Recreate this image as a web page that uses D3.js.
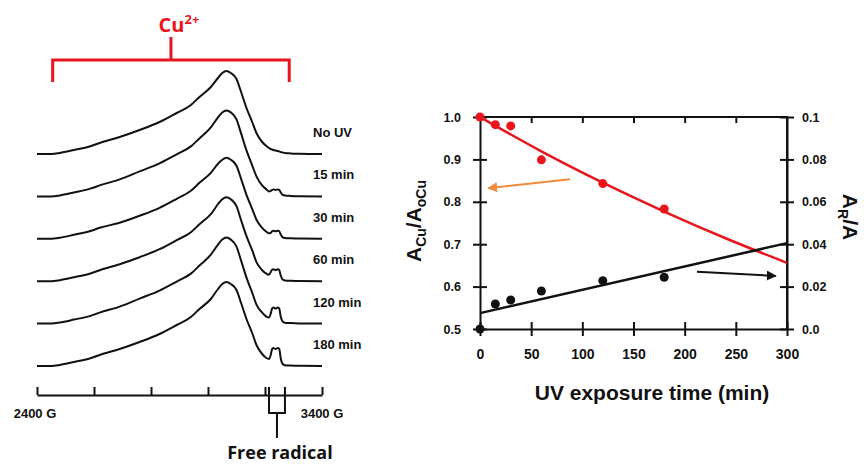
<!DOCTYPE html>
<html><head><meta charset="utf-8">
<script src="https://cdn.jsdelivr.net/npm/d3@7"></script>
<style>
html,body{margin:0;padding:0;background:#fff;}
svg{display:block;}
</style></head>
<body>
<svg id="chart" width="864" height="466"></svg>
<script>
// ---------- Left panel: EPR spectra ----------
const fieldG = [2400,2450,2480,2530,2590,2620,2690,2760,2830,2890,2940,2970,3010,3035,3050,3065,3080,3100,3115,3135,3155,3170,3190,3205,3214,3220,3225,3229,3237,3245,3250,3255,3262,3270,3290,3320,3400];
const traceLabels = ["No UV","15 min","30 min","60 min","120 min","180 min"];
const specNoUV  = [0,0,1,4,8,11,17,24,32,41,49,57,67,76,81,83,81,75,63,46,32,21,12,8,6,5,4.5,4,3.5,3,2.5,2,1.5,1,0.6,0.3,0];
const spec15    = [0,0,1,4,8,11,17,25,33,42,50,58,69,79,84,86,84,77,64,46,31,20,11,7,5,5.5,6.5,7,6.5,7,6.5,4,1.5,0.8,0.5,0.2,0];
const spec30    = [0,0,1,4,8,11,16,23,31,40,48,56,66,75,79,81,79,73,61,44,30,19,11,7,5.5,6,7.5,8,7.5,8,7.5,4.5,1.5,0.8,0.5,0.2,0];
const spec60    = [0,0,1,4,8,11,17,24,32,41,49,57,67,77,82,84,82,75,62,45,31,19,11,7.5,6.5,9,11.5,12,11,12,11,6,1.8,0.8,0.5,0.2,0];
const spec120   = [0,0,1,4,8,11,17,25,33,42,50,58,69,79,84,86,84,77,64,46,31,19,11,7,6,10,15,16,15,16,15,7,2,0.8,0.5,0.2,0];
const spec180   = [0,0,1,4,8,11,17,24,32,41,49,57,67,77,82,84,82,76,64,47,33,21,12,8,7,11,17,18,17,18,17,8,2,0.8,0.5,0.2,0];
const spectra = [specNoUV, spec15, spec30, spec60, spec120, spec180];
const fieldTicks = [2400,2600,2800,3000,3200,3400];
const fieldTickLabels = ["2400 G","3400 G"];
const radicalRange = [3214, 3270];
const cuRange = [2455, 3285];

// ---------- Right panel: ratios vs UV time ----------
const timeMin      = [0,15,30,60,120,180];
const cuRatio      = [1.0,0.982,0.979,0.899,0.843,0.783];
const radicalRatio = [0.0,0.0118,0.0137,0.0179,0.0228,0.0244];
const cuFitTime    = [0,60,120,180,240,300];
const cuFitValue   = [1.0,0.919,0.845,0.777,0.714,0.656];
const radFitTime   = [0,300];
const radFitValue  = [0.0075,0.0405];
const xTicks       = [0,50,100,150,200,250,300];
const yLeftTicks   = [0.5,0.6,0.7,0.8,0.9,1.0];
const yRightTicks  = [0,0.02,0.04,0.06,0.08,0.1];
const yRightLabels = ["0.0","0.02","0.04","0.06","0.08","0.1"];

const svg = d3.select("#chart");
const FONT = "'Liberation Sans', Arial, sans-serif";
const FONT2 = "'Open Sans', 'Noto Sans', sans-serif";
const RED = "#e8161c";

// ===== Left panel =====
const xG = d3.scaleLinear().domain([2400,3400]).range([37,322]);
const yBase = d3.scalePoint().domain(traceLabels).range([154,366]);
const yAmp = d3.scaleLinear().domain([0,100]).range([0,-100]);

const gL = svg.append("g");
const line = d3.line().x(d=>xG(d[0])).y(d=>yAmp(d[1])).curve(d3.curveMonotoneX);
spectra.forEach((s,i)=>{
  const pts = fieldG.map((f,j)=>[f,s[j]]);
  gL.append("path").attr("transform",`translate(0,${yBase(traceLabels[i])})`)
    .attr("d",line(pts)).attr("fill","none").attr("stroke","#111").attr("stroke-width",2)
    .attr("stroke-linejoin","round");
  gL.append("text").attr("x",313).attr("y",yBase(traceLabels[i])-17)
    .attr("font-family",FONT).attr("font-weight","bold").attr("font-size",13)
    .attr("fill","#111").text(traceLabels[i]);
});

// field axis
const axisY = 395;
const axG = gL.append("g").attr("transform",`translate(0,${axisY})`)
  .call(d3.axisBottom(xG).tickValues(fieldTicks).tickSize(-8).tickSizeOuter(0).tickFormat(""));
axG.select(".domain").attr("stroke","#111").attr("stroke-width",2);
axG.selectAll(".tick line").attr("stroke","#111").attr("stroke-width",2);
gL.append("text").attr("x",xG(2400)-2).attr("y",axisY+23).attr("text-anchor","middle")
  .attr("font-family",FONT).attr("font-weight","bold").attr("font-size",13).attr("fill","#111").text(fieldTickLabels[0]);
gL.append("text").attr("x",xG(3400)).attr("y",axisY+23).attr("text-anchor","middle")
  .attr("font-family",FONT).attr("font-weight","bold").attr("font-size",13).attr("fill","#111").text(fieldTickLabels[1]);

// free radical bracket
const rx0 = xG(radicalRange[0]), rx1 = xG(radicalRange[1]), rxm = (rx0+rx1)/2;
gL.append("path").attr("d",`M${rx0},${axisY-8}V${axisY+18}H${rx1}V${axisY-8}M${rxm},${axisY+18}V${axisY+43}`)
  .attr("fill","none").attr("stroke","#111").attr("stroke-width",2);
gL.append("text").attr("x",rxm+3).attr("y",459).attr("text-anchor","middle")
  .attr("font-family",FONT2).attr("font-weight",700).attr("font-size",18).attr("fill","#111").text("Free radical");

// Cu2+ bracket
const cx0 = xG(cuRange[0]), cx1 = xG(cuRange[1]), cxm = (cx0+cx1)/2;
gL.append("path").attr("d",`M${cx0},82V60H${cx1}V82M${cxm},60V37`)
  .attr("fill","none").attr("stroke",RED).attr("stroke-width",3);
const cuT = gL.append("text").attr("x",cxm+8).attr("y",32).attr("text-anchor","middle")
  .attr("font-family",FONT2).attr("font-weight",700).attr("font-size",20).attr("fill",RED);
cuT.append("tspan").text("Cu");
cuT.append("tspan").attr("font-size",13).attr("dy",-8).text("2+");

// ===== Right panel =====
const x = d3.scaleLinear().domain([0,300]).range([480,787]);
const yL = d3.scaleLinear().domain([0.5,1.0]).range([329,117]);
const yR = d3.scaleLinear().domain([0,0.1]).range([329,117]);
const gR = svg.append("g");

// frame
gR.append("path").attr("d",`M${x(0)},${yL(1.0)}H${x(300)}V${yL(0.5)}`)
  .attr("fill","none").attr("stroke","#111").attr("stroke-width",2);

function styleAxis(g){
  g.select(".domain").attr("stroke","#111").attr("stroke-width",2);
  g.selectAll(".tick line").attr("stroke","#111").attr("stroke-width",2);
  g.selectAll(".tick text").attr("font-family",FONT).attr("font-weight","bold").attr("fill","#111");
}
const axB = gR.append("g").attr("transform",`translate(0,${yL(0.5)})`)
  .call(d3.axisBottom(x).tickValues(xTicks).tickSize(7).tickSizeOuter(0).tickPadding(13));
styleAxis(axB);
axB.selectAll(".tick line").attr("y1",-7);
axB.selectAll(".tick text").attr("font-size",14);

const axT = gR.append("g").attr("transform",`translate(0,${yL(1.0)})`)
  .call(d3.axisTop(x).tickValues(xTicks.slice(1,-1)).tickSize(-6).tickSizeOuter(0).tickFormat(""));
styleAxis(axT);
axT.select(".domain").remove();

const axLft = gR.append("g").attr("transform",`translate(${x(0)},0)`)
  .call(d3.axisLeft(yL).tickValues(yLeftTicks).tickSize(7).tickSizeOuter(0).tickPadding(12).tickFormat(d3.format(".1f")));
styleAxis(axLft);
axLft.selectAll(".tick line").attr("x1",7);
axLft.selectAll(".tick text").attr("font-size",12.5);

const axRgt = gR.append("g").attr("transform",`translate(${x(300)},0)`)
  .call(d3.axisRight(yR).tickValues(yRightTicks).tickSize(7).tickSizeOuter(0).tickPadding(8)
    .tickFormat((d,i)=>yRightLabels[i]));
styleAxis(axRgt);
axRgt.selectAll(".tick line").attr("x1",-7);
axRgt.selectAll(".tick text").attr("font-size",12.5);

// fit lines
const fitLineL = d3.line().x(d=>x(d[0])).y(d=>yL(d[1])).curve(d3.curveMonotoneX);
const fitLineR = d3.line().x(d=>x(d[0])).y(d=>yR(d[1]));
gR.append("path").attr("d",fitLineL(cuFitTime.map((t,i)=>[t,cuFitValue[i]])))
  .attr("fill","none").attr("stroke",RED).attr("stroke-width",2.5);
gR.append("path").attr("d",fitLineR(radFitTime.map((t,i)=>[t,radFitValue[i]])))
  .attr("fill","none").attr("stroke","#111").attr("stroke-width",2.5);

// points
gR.selectAll("circle.cu").data(timeMin).join("circle").attr("class","cu")
  .attr("cx",d=>x(d)).attr("cy",(d,i)=>yL(cuRatio[i])).attr("r",4.5).attr("fill",RED);
gR.selectAll("circle.rad").data(timeMin).join("circle").attr("class","rad")
  .attr("cx",d=>x(d)).attr("cy",(d,i)=>yR(radicalRatio[i])).attr("r",4.5).attr("fill","#111");

// arrows
const defs = svg.append("defs");
function marker(id,color){
  defs.append("marker").attr("id",id).attr("viewBox","0 0 10 10").attr("refX",9).attr("refY",5)
    .attr("markerWidth",5).attr("markerHeight",5).attr("orient","auto-start-reverse")
    .append("path").attr("d","M0,0L10,5L0,10z").attr("fill",color);
}
marker("arrO","#f08a3c"); marker("arrK","#111");
gR.append("line").attr("x1",x(88)).attr("y1",yL(0.853)).attr("x2",x(8)).attr("y2",yL(0.832))
  .attr("stroke","#f08a3c").attr("stroke-width",2).attr("marker-end","url(#arrO)");
gR.append("line").attr("x1",x(212)).attr("y1",yR(0.027)).attr("x2",x(289)).attr("y2",yR(0.025))
  .attr("stroke","#111").attr("stroke-width",2).attr("marker-end","url(#arrK)");

// axis titles
gR.append("text").attr("x",652).attr("y",400).attr("text-anchor","middle")
  .attr("font-family",FONT).attr("font-weight","bold").attr("font-size",21).attr("fill","#111")
  .text("UV exposure time (min)");

const tL = gR.append("text").attr("transform","translate(421,221) rotate(-90)").attr("text-anchor","middle")
  .attr("font-family",FONT).attr("font-weight","bold").attr("font-size",21).attr("fill","#111");
tL.append("tspan").text("A");
tL.append("tspan").attr("font-size",14).attr("dy",5).text("Cu");
tL.append("tspan").attr("dy",-5).text("/A");
tL.append("tspan").attr("font-size",14).attr("dy",5).text("oCu");

const tR = gR.append("text").attr("transform","translate(843,217) rotate(90)").attr("text-anchor","middle")
  .attr("font-family",FONT).attr("font-weight","bold").attr("font-size",21).attr("fill","#111");
tR.append("tspan").text("A");
tR.append("tspan").attr("font-size",14).attr("dy",5).text("R");
tR.append("tspan").attr("dy",-5).text("/A");
</script>
</body></html>
